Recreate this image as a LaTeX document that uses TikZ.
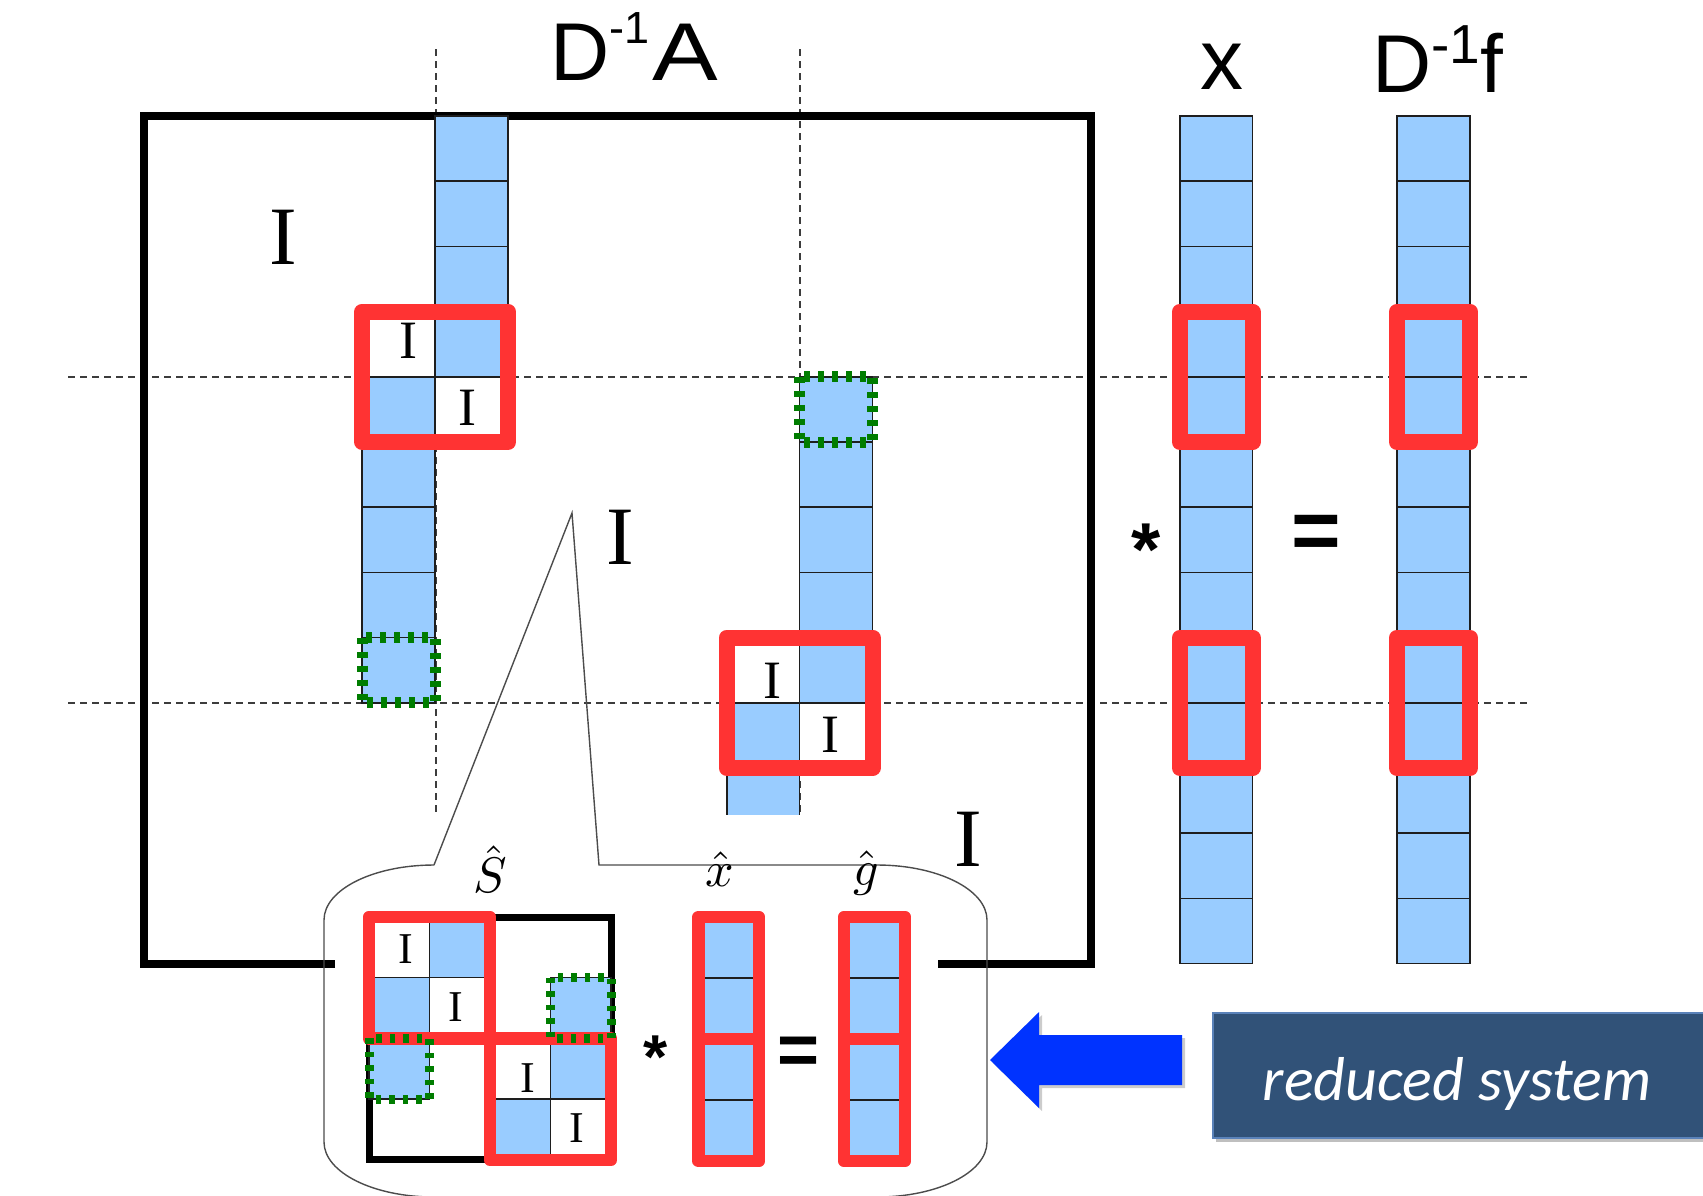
\documentclass[tikz,border=0pt]{standalone}
\usepackage{fontspec}
\setmainfont{Liberation Serif}
\newfontfamily\arialf{Liberation Sans}
\newfontfamily\calif{Carlito}
\definecolor{cellblue}{RGB}{153,204,255}
\definecolor{boxred}{RGB}{255,51,51}
\definecolor{dotgreen}{RGB}{0,125,0}
\definecolor{celline}{RGB}{30,30,30}
\definecolor{dashgray}{RGB}{60,60,60}
\definecolor{arrowblue}{RGB}{0,51,255}
\definecolor{slatebox}{RGB}{49,82,120}
\definecolor{slateedge}{RGB}{90,130,185}
\begin{document}
\begin{tikzpicture}[x=1pt,y=-1pt,
  cell/.style={fill=cellblue,draw=celline,line width=1.7pt},
  icell/.style={fill=white,draw=celline,line width=1.7pt},
  scell/.style={fill=cellblue,draw=celline,line width=1.4pt},
  sicell/.style={fill=white,draw=celline,line width=1.4pt},
  redbox/.style={draw=boxred,line width=16pt,line join=round},
  sredbox/.style={draw=boxred,line width=12.5pt,line join=round},
  greenbox/.style={draw=dotgreen,line width=11pt,dash pattern=on 6pt off 8pt},
  sgreenbox/.style={draw=dotgreen,line width=9pt,dash pattern=on 5.5pt off 8pt},
  guide/.style={draw=dashgray,line width=1.7pt,dash pattern=on 7pt off 5pt},
  bigI/.style={inner sep=0pt,font=\fontsize{83}{90}\selectfont},
  midI/.style={inner sep=0pt,font=\fontsize{54}{60}\selectfont},
  smallI/.style={inner sep=0pt,font=\fontsize{44}{50}\selectfont},
  sans/.style={inner sep=0pt,font=\arialf\fontsize{82}{90}\selectfont},
  hatlabel/.style={inner sep=0pt,font=\normalsize},
  bubble/.style={draw=black!70,line width=1.4pt,line join=miter},
]
\useasboundingbox (0,0) rectangle (1703,1195);
\clip (0,0) rectangle (1703,1195);
\fill[white] (0,0) rectangle (1703,1195);

% guide lines
\draw[guide] (436,49) -- (436,815);
\draw[guide] (800,49) -- (800,815);
\draw[guide] (68,377) -- (1531,377);
\draw[guide] (68,703) -- (1531,703);

% outer matrix border
\draw[line width=8pt,line join=miter] (335,964) -- (143.5,964) -- (143.5,116) -- (1091,116) -- (1091,964) -- (938,964);

% main matrix strips
\begin{scope}[shift={(143.5,116)},x=72.9pt,y=-65.2pt]
  \foreach \r in {0,1,2} \draw[cell] (4,\r) rectangle (5,\r+1);
  \draw[icell] (3,3) rectangle (4,4);
  \draw[cell] (4,3) rectangle (5,4);
  \draw[cell] (3,4) rectangle (4,5);
  \draw[icell] (4,4) rectangle (5,5);
  \foreach \r in {5,6,7,8} \draw[cell] (3,\r) rectangle (4,\r+1);
  \foreach \r in {4,5,6,7} \draw[cell] (9,\r) rectangle (10,\r+1);
  \draw[icell] (8,8) rectangle (9,9);
  \draw[cell] (9,8) rectangle (10,9);
  \draw[cell] (8,9) rectangle (9,10);
  \draw[icell] (9,9) rectangle (10,10);
  \fill[cellblue] (8,10) rectangle (9,10.72);
  \draw[celline,line width=1.7pt] (8,10.72) -- (8,10) -- (9,10) -- (9,10.72);
  \draw[redbox] (3,3) rectangle (5,5);
  \draw[redbox] (8,8) rectangle (10,10);
  \draw[greenbox] (3,8) rectangle (4,9);
  \draw[greenbox] (9,4) rectangle (10,5);
\end{scope}

% vector x
\begin{scope}[shift={(1180,116)},x=72.5pt,y=-65.2pt]
  \foreach \r in {0,...,12} \draw[cell] (0,\r) rectangle (1,\r+1);
  \draw[redbox] (0,3) rectangle (1,5);
  \draw[redbox] (0,8) rectangle (1,10);
\end{scope}
% vector D^-1 f
\begin{scope}[shift={(1397,116)},x=73pt,y=-65.2pt]
  \foreach \r in {0,...,12} \draw[cell] (0,\r) rectangle (1,\r+1);
  \draw[redbox] (0,3) rectangle (1,5);
  \draw[redbox] (0,8) rectangle (1,10);
\end{scope}

% labels
\node[sans,anchor=base west] (lA) at (550,80) {D\raisebox{37pt}{\fontsize{45}{47}\selectfont -1}\hspace{3pt}\scalebox{1.2}[1]{A}};
\node[sans,anchor=base,font=\arialf\fontsize{86}{90}\selectfont] (lx) at (1222,89) {x};
\node[sans,anchor=base west] (lf) at (1372,92) {D\raisebox{29pt}{\fontsize{55}{60}\selectfont -1}f};
\node[inner sep=0pt,anchor=base,font=\arialf\bfseries\fontsize{75}{80}\selectfont] (star) at (1146,575) {*};
\node[inner sep=0pt,anchor=base,font=\arialf\bfseries\fontsize{85}{90}\selectfont] (eq) at (1316,559) {=};

\node[bigI] (I1) at (283.5,237.5) {I};
\node[bigI] (I2) at (620,537.5) {I};
\node[bigI] (I3) at (968.5,839.5) {I};
\node[midI] (i1) at (408.5,341) {I};
\node[midI] (i2) at (467.5,408) {I};
\node[midI] (i3) at (772.5,681) {I};
\node[midI] (i4) at (830.5,734.5) {I};

% callout bubble
\draw[bubble] (434,865) -- (572,513) -- (599,865) -- (877,865)
  .. controls (937.8,865) and (987,889.6) .. (987,920)
  -- (987,1142)
  .. controls (987,1172.4) and (937.8,1197) .. (877,1197)
  -- (434,1197)
  .. controls (373.2,1197) and (324,1172.4) .. (324,1142)
  -- (324,920)
  .. controls (324,889.6) and (373.2,865) .. (434,865);

% reduced matrix S hat
\begin{scope}[shift={(369,917)},x=60.5pt,y=-60.7pt]
  \draw[line width=7pt,line join=miter] (0,0) rectangle (4,4);
  \draw[sicell] (0,0) rectangle (1,1);
  \draw[scell] (1,0) rectangle (2,1);
  \draw[scell] (0,1) rectangle (1,2);
  \draw[sicell] (1,1) rectangle (2,2);
  \draw[sicell] (2,2) rectangle (3,3);
  \draw[scell] (3,2) rectangle (4,3);
  \draw[scell] (2,3) rectangle (3,4);
  \draw[sicell] (3,3) rectangle (4,4);
  \draw[scell] (0,2) rectangle (1,3);
  \draw[scell] (3,1) rectangle (4,2);
  \draw[sredbox] (0,0) rectangle (2,2);
  \draw[sredbox] (2,2) rectangle (4,4);
  \draw[sgreenbox] (0,2) rectangle (1,3);
  \draw[sgreenbox] (3,1) rectangle (4,2);
\end{scope}
\node[smallI] (s1) at (406,949) {I};
\node[smallI] (s2) at (456,1007) {I};
\node[smallI] (s3) at (528,1078) {I};
\node[smallI] (s4) at (577,1128) {I};

% x hat and g hat
\begin{scope}[shift={(698.5,917)},x=60.5pt,y=-61pt]
  \foreach \r in {0,...,3} \draw[scell] (0,\r) rectangle (1,\r+1);
  \draw[sredbox] (0,0) rectangle (1,2);
  \draw[sredbox] (0,2) rectangle (1,4);
\end{scope}
\begin{scope}[shift={(844,917)},x=61pt,y=-61pt]
  \foreach \r in {0,...,3} \draw[scell] (0,\r) rectangle (1,\r+1);
  \draw[sredbox] (0,0) rectangle (1,2);
  \draw[sredbox] (0,2) rectangle (1,4);
\end{scope}

\node[hatlabel] (Sh) at (490,869) {\scalebox{5}{$\hat{S}$}};
\node[hatlabel] (xh) at (720,869) {\scalebox{5}{$\hat{x}$}};
\node[hatlabel] (gh) at (866,873) {\scalebox{5}{$\hat{g}$}};
\node[inner sep=0pt,anchor=base,font=\arialf\bfseries\fontsize{62}{66}\selectfont] (sstar) at (656,1078) {*};
\node[inner sep=0pt,anchor=base,font=\arialf\bfseries\fontsize{72}{76}\selectfont] (seq) at (799,1074) {=};

% arrow and label box
\fill[black,opacity=0.2] (993,1063) -- (1042,1015) -- (1042,1038) -- (1185,1038) -- (1185,1088) -- (1042,1088) -- (1042,1111) -- cycle;
\fill[arrowblue] (990,1060) -- (1039,1012) -- (1039,1035) -- (1182,1035) -- (1182,1085) -- (1039,1085) -- (1039,1108) -- cycle;
\fill[black,opacity=0.25] (1216,1017) rectangle (1720,1142);
\draw[fill=slatebox,draw=slateedge,line width=1.5pt] (1213,1013) rectangle (1720,1138);
\node[inner sep=0pt,anchor=base,text=white,font=\calif\itshape\fontsize{62}{70}\selectfont] (rs) at (1457,1100) {reduced system};
\end{tikzpicture}
\end{document}
